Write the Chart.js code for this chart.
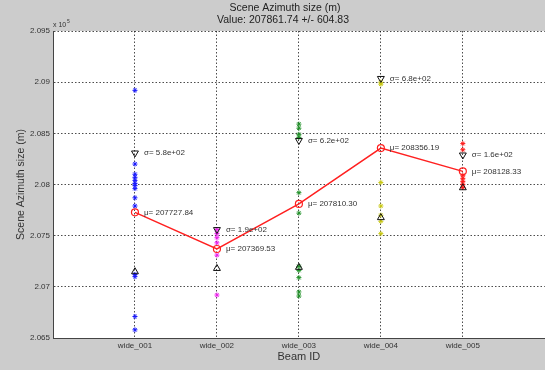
<!DOCTYPE html>
<html lang="en">
<head>
<meta charset="UTF-8">
<title>Scene Azimuth size</title>
<script src="https://cdn.jsdelivr.net/npm/chart.js"></script>
<style>
  html, body { margin: 0; padding: 0; background: #cccccc; overflow: hidden; }
  #wrap { width: 545px; height: 370px; overflow: hidden; }
</style>
</head>
<body>
<div id="wrap"><canvas id="chart" width="550" height="370"></canvas></div>
<script>
// beam ids (x categories)
const beams = ['wide_001', 'wide_002', 'wide_003', 'wide_004', 'wide_005'];

// individual measurements per beam (m)
const beam001 = [208920, 208200, 208100, 208070, 208040, 208010, 207990, 207960, 207870, 207790, 207120, 207100, 206710, 206580];
const beam002 = [207560, 207520, 207480, 207430, 207310, 206920];
const beam003 = [208590, 208550, 208490, 208460, 207920, 207720, 207200, 207160, 207090, 206950, 206910];
const beam004 = [209000, 208980, 208020, 207790, 207700, 207640, 207520];
const beam005 = [208400, 208340, 208090, 208060, 208030, 208000, 207970];

// per-beam mean and std dev
const means = [207727.84, 207369.53, 207810.30, 208356.19, 208128.33];
const sigmas = [580, 190, 620, 680, 160];

const beamColors = ['#1a1aff', '#ee22ee', '#22922a', '#c8c810', '#ff1a1a'];

const yTicks = [206500, 207000, 207500, 208000, 208500, 209000, 209500];

function sci(v) {
  const e = Math.floor(Math.log10(v));
  return (v / Math.pow(10, e)).toFixed(1) + 'e+' + String(e).padStart(2, '0');
}

const allBeams = [beam001, beam002, beam003, beam004, beam005];
const scatterSets = allBeams.map((vals, i) => ({
  type: 'scatter',
  data: vals.map(v => ({ x: i + 1, y: v })),
  pointStyle: 'star',
  radius: 2.5,
  borderWidth: 1,
  borderColor: beamColors[i],
  backgroundColor: beamColors[i],
  order: 3
}));

const meanSet = {
  type: 'line',
  data: means.map((m, i) => ({ x: i + 1, y: m })),
  borderColor: '#ff2020',
  borderWidth: 1.5,
  pointStyle: 'circle',
  radius: 3.5,
  pointBorderColor: '#ff2020',
  pointBackgroundColor: 'rgba(255,255,255,0)',
  pointBorderWidth: 1.2,
  order: 1
};

const upperSet = {
  type: 'scatter',
  data: means.map((m, i) => ({ x: i + 1, y: m + sigmas[i] })),
  pointStyle: 'triangle',
  rotation: 180,
  radius: 4,
  borderColor: '#111',
  borderWidth: 1,
  backgroundColor: 'rgba(0,0,0,0)',
  order: 2
};

const lowerSet = {
  type: 'scatter',
  data: means.map((m, i) => ({ x: i + 1, y: m - sigmas[i] })),
  pointStyle: 'triangle',
  radius: 4,
  borderColor: '#111',
  borderWidth: 1,
  backgroundColor: 'rgba(0,0,0,0)',
  order: 2
};

const decor = {
  id: 'decor',
  beforeDraw(chart) {
    const { ctx, chartArea: a } = chart;
    ctx.save();
    ctx.fillStyle = '#cccccc';
    ctx.fillRect(0, 0, chart.width, chart.height);
    ctx.fillStyle = '#ffffff';
    ctx.fillRect(a.left, a.top, chart.width - a.left, a.bottom - a.top);
    ctx.restore();
  },
  afterDatasetsDraw(chart) {
    const { ctx, scales: { x, y } } = chart;
    ctx.save();
    ctx.fillStyle = '#333';
    ctx.font = '8px "Liberation Sans", Arial, sans-serif';
    ctx.textBaseline = 'middle';
    ctx.textAlign = 'left';
    means.forEach((m, i) => {
      const px = x.getPixelForValue(i + 1) + 9;
      ctx.fillText('\u03bc= ' + m.toFixed(2), px, y.getPixelForValue(m));
      ctx.fillText('\u03c3= ' + sci(sigmas[i]), px, y.getPixelForValue(m + sigmas[i]));
    });
    ctx.restore();
  },
  afterDraw(chart) {
    const { ctx, chartArea: a } = chart;
    ctx.save();
    ctx.fillStyle = '#222';
    ctx.textAlign = 'center';
    ctx.textBaseline = 'middle';
    ctx.font = '10.5px "Liberation Sans", Arial, sans-serif';
    ctx.fillText('Scene Azimuth size (m)', 285, 8);
    ctx.fillText('Value: 207861.74 +/- 604.83', 283, 20);
    // exponent label
    ctx.textAlign = 'left';
    ctx.textBaseline = 'alphabetic';
    ctx.fillStyle = '#333';
    ctx.font = '7px "Liberation Sans", Arial, sans-serif';
    ctx.fillText('x 10', a.left, a.top - 4);
    ctx.font = '5px "Liberation Sans", Arial, sans-serif';
    ctx.fillText('5', a.left + 14, a.top - 8);
    ctx.restore();
  }
};

new Chart(document.getElementById('chart'), {
  data: { datasets: [meanSet, upperSet, lowerSet, ...scatterSets] },
  options: {
    responsive: false,
    animation: false,
    events: [],
    layout: { padding: { top: 31, right: 0, left: 0, bottom: 0 } },
    plugins: { legend: { display: false }, tooltip: { enabled: false } },
    scales: {
      x: {
        type: 'linear',
        min: 0,
        max: 6,
        afterBuildTicks: s => { s.ticks = beams.map((b, i) => ({ value: i + 1 })); },
        afterFit: s => { s.height = 32; },
        ticks: {
          callback: v => beams[v - 1] || '',
          color: '#333',
          font: { size: 8, family: '"Liberation Sans", Arial' },
          padding: 3,
          maxRotation: 0,
          autoSkip: false
        },
        grid: { color: 'rgba(0,0,0,0.7)', drawTicks: false, lineWidth: 1 },
        border: { display: true, color: '#444', width: 1, dash: [1.5, 2] },
        title: {
          display: true,
          text: 'Beam ID',
          color: '#333',
          font: { size: 11, family: '"Liberation Sans", Arial' },
          padding: { top: 0, bottom: 6 }
        }
      },
      y: {
        min: 206500,
        max: 209500,
        afterBuildTicks: s => { s.ticks = yTicks.map(v => ({ value: v })); },
        afterFit: s => { s.width = 53; },
        ticks: {
          callback: v => String(+(v / 1e5).toFixed(3)),
          color: '#333',
          font: { size: 8, family: '"Liberation Sans", Arial' },
          padding: 3
        },
        grid: { color: 'rgba(0,0,0,0.7)', drawTicks: false, lineWidth: 1 },
        border: { display: true, color: '#444', width: 1, dash: [1.5, 2] },
        title: {
          display: true,
          text: 'Scene Azimuth size (m)',
          color: '#333',
          font: { size: 10.5, family: '"Liberation Sans", Arial' },
          padding: { top: 15, bottom: 0 }
        }
      }
    }
  },
  plugins: [decor]
});
</script>
</body>
</html>
